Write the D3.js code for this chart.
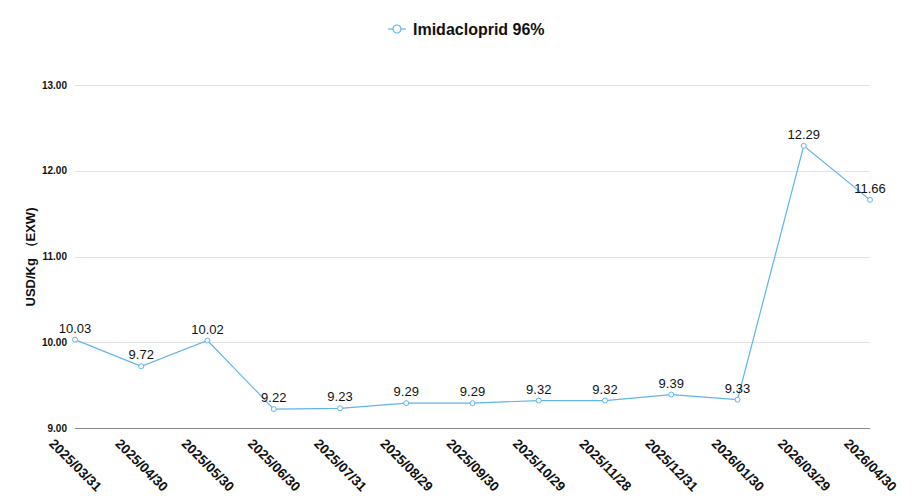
<!DOCTYPE html>
<html>
<head>
<meta charset="utf-8">
<script src="https://cdn.jsdelivr.net/npm/d3@7"></script>
<style>
  body { margin: 0; background: #fff; }
  svg { font-family: "Liberation Sans", Arial, Helvetica, sans-serif; }
</style>
</head>
<body>
<div id="chart-area"></div>
<script>
// Datos del gráfico
var dates = ["2025/03/31", "2025/04/30", "2025/05/30", "2025/06/30", "2025/07/31", "2025/08/29",
    "2025/09/30", "2025/10/29", "2025/11/28", "2025/12/31", "2026/01/30", "2026/03/29", "2026/04/30"];
var prices = [10.03, 9.72, 10.02, 9.22, 9.23, 9.29, 9.29, 9.32, 9.32, 9.39, 9.33, 12.29, 11.66];
var yTicks = [9, 10, 11, 12, 13];
var seriesName = "Imidacloprid 96%";
var yTitle = "USD/Kg （EXW)";

var width = 916, height = 503;
var lineColor = "#5fb4ea";

var svg = d3.select("#chart-area").append("svg")
    .attr("width", width)
    .attr("height", height);

var x = d3.scalePoint()
    .domain(dates)
    .range([75, 870]);

var y = d3.scaleLinear()
    .domain([9, 13])
    .range([428, 85]);

// Líneas de la cuadrícula
svg.append("g")
    .selectAll("line")
    .data(yTicks)
    .enter()
    .append("line")
        .attr("x1", 75)
        .attr("x2", 870)
        .attr("y1", d => Math.round(y(d)) + 0.5)
        .attr("y2", d => Math.round(y(d)) + 0.5)
        .attr("stroke", d => d === 9 ? "#8a8a8a" : "#e2e2e2")
        .attr("stroke-width", 1);

// Etiquetas del eje Y
var yAxis = svg.append("g")
    .attr("transform", "translate(67,0)")
    .call(d3.axisLeft(y).tickValues(yTicks).tickFormat(d3.format(".2f")).tickSize(0).tickPadding(0));
yAxis.select(".domain").remove();
yAxis.selectAll("text")
    .attr("font-size", 10)
    .attr("font-weight", "bold")
    .attr("fill", "#111")
    .attr("font-family", "\"Liberation Sans\", Arial, sans-serif");

// Etiquetas del eje X
var xAxis = svg.append("g")
    .attr("transform", "translate(0,465)")
    .call(d3.axisBottom(x).tickSize(0).tickPadding(0));
xAxis.select(".domain").remove();
xAxis.selectAll("text")
    .attr("y", 0)
    .attr("dy", "0.35em")
    .attr("text-anchor", "middle")
    .attr("transform", "rotate(45)")
    .attr("font-size", 13.5)
    .attr("font-weight", "bold")
    .attr("fill", "#111")
    .attr("font-family", "\"Liberation Sans\", Arial, sans-serif");

// Título del eje Y
svg.append("text")
    .attr("transform", "translate(35,257) rotate(-90)")
    .attr("text-anchor", "middle")
    .attr("font-size", 13)
    .attr("font-weight", "bold")
    .attr("fill", "#111")
    .text(yTitle);

// Línea de la serie
var line = d3.line()
    .x((d, i) => x(dates[i]))
    .y(d => y(d));

svg.append("path")
    .datum(prices)
    .attr("d", line)
    .attr("fill", "none")
    .attr("stroke", lineColor)
    .attr("stroke-width", 1.2);

// Puntos
svg.append("g")
    .selectAll("circle")
    .data(prices)
    .enter()
    .append("circle")
        .attr("cx", (d, i) => x(dates[i]))
        .attr("cy", d => y(d))
        .attr("r", 2.5)
        .attr("fill", "#fff")
        .attr("stroke", lineColor)
        .attr("stroke-width", 1);

// Etiquetas de valores
svg.append("g")
    .selectAll("text")
    .data(prices)
    .enter()
    .append("text")
        .attr("x", (d, i) => x(dates[i]))
        .attr("y", d => y(d) - 7)
        .attr("text-anchor", "middle")
        .attr("font-size", 13)
        .attr("fill", "#111")
        .text(d => d.toFixed(2));

// Leyenda
var legend = svg.append("g").attr("transform", "translate(397,29)");
legend.append("line")
    .attr("x1", -9).attr("x2", 9)
    .attr("stroke", lineColor)
    .attr("stroke-width", 1.2);
legend.append("circle")
    .attr("r", 4)
    .attr("fill", "#fff")
    .attr("stroke", lineColor)
    .attr("stroke-width", 1.2);
legend.append("text")
    .attr("x", 16)
    .attr("dy", "0.35em")
    .attr("font-size", 16)
    .attr("font-weight", "bold")
    .attr("fill", "#111")
    .text(seriesName);
</script>
</body>
</html>
